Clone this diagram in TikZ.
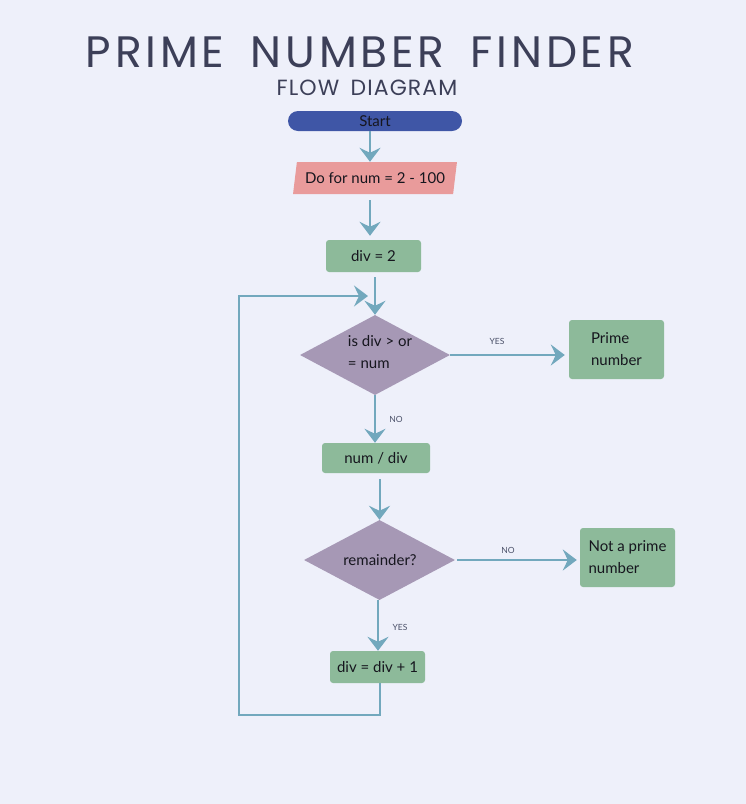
\documentclass[tikz,border=0pt]{standalone}
\usepackage{fontspec}
\setmainfont{Lato}
\newfontfamily\titlefont{Poppins}
\usetikzlibrary{shapes.geometric,arrows.meta,calc}
\definecolor{bgc}{HTML}{EEF0FA}
\definecolor{startc}{HTML}{3F56A6}
\definecolor{pinkc}{HTML}{E99B9B}
\definecolor{greenc}{HTML}{8DBA9A}
\definecolor{purplec}{HTML}{A698B5}
\definecolor{arrowc}{HTML}{72A8BD}
\definecolor{titlec}{HTML}{3C3F58}
\definecolor{textc}{HTML}{16161E}
\definecolor{labelc}{HTML}{4A5068}
\begin{document}
\begin{tikzpicture}[x=1pt,y=-1pt,
  body/.style={font=\fontsize{15}{22}\selectfont, text=textc},
  greenbox/.style={body, rectangle, rounded corners=3pt, fill=greenc, inner sep=0pt, align=left},
  decision/.style={diamond, fill=purplec, inner sep=0pt, aspect=1.875},
  conn/.style={draw=arrowc, line width=2pt},
  arr/.style={conn, -{Stealth[length=14pt,width=21pt,inset=5pt]}},
  lbl/.style={font=\fontsize{8.5}{10}\selectfont, text=labelc}]
\fill[bgc] (0,0) rectangle (746,804);
\useasboundingbox (0,0) rectangle (746,804);

% titles
\node[font=\titlefont\fontsize{44}{44}\selectfont\addfontfeature{LetterSpace=8.5}, text=titlec] (title) at (360,52) {PRIME\hspace{0.25em} NUMBER\hspace{0.25em} FINDER};
\node[font=\titlefont\fontsize{22}{22}\selectfont\addfontfeature{LetterSpace=5}, text=titlec] (subtitle) at (367,88) {FLOW\hspace{0.2em} DIAGRAM};

% nodes
\node[body, rectangle, rounded corners=10pt, fill=startc, minimum width=174pt, minimum height=20pt, inner sep=0pt] (start) at (375,121) {Start};
\node[body, trapezium, trapezium left angle=72.6, trapezium right angle=107.4, trapezium stretches=true, fill=pinkc, minimum width=164pt, minimum height=32pt, inner sep=0pt] (para) at (375,178) {Do for num = 2 - 100};
\node[greenbox, minimum width=95pt, minimum height=32pt] (div2) at (373.5,256) {div = 2};
\node[decision, minimum width=150pt, minimum height=80pt] (d1) at (375,355) {};
\node[body, align=left] (d1t) at (380,352) {is div > or\\= num};
\node[greenbox, minimum width=95pt, minimum height=59pt] (prime) at (616.5,349.5) {Prime\\number};
\node[greenbox, minimum width=108pt, minimum height=30pt] (numdiv) at (376,458) {num / div};
\node[decision, minimum width=151pt, minimum height=80pt] (d2) at (379.5,560) {};
\node[body] (d2t) at (380,560) {remainder?};
\node[greenbox, minimum width=95pt, minimum height=59pt] (notprime) at (627.5,557.5) {Not a prime\\number};
\node[greenbox, minimum width=95pt, minimum height=32pt] (inc) at (377.5,667) {div = div + 1};

% connectors
\draw[arr] (start.south -| 370,0) -- (para.north -| 370,0);
\draw[arr, shorten <=6pt, shorten >=4pt] (para.south -| 370,0) -- (div2.north -| 370,0);
\draw[arr, shorten <=5pt] (div2.south -| d1.north) -- (d1.north);
\draw[arr, shorten >=4pt] (d1.east) -- (prime.west |- d1.east);
\draw[arr] (d1.south) -- (numdiv.north -| d1.south);
\draw[arr, shorten <=6pt] (numdiv.south -| d2.north) -- (d2.north);
\draw[arr, shorten <=2pt, shorten >=3pt] (d2.east) -- (notprime.west |- d2.east);
\draw[arr] (d2.south -| 378,0) -- (inc.north -| 378,0);
\coordinate (lb) at (239,715);
\coordinate (lt) at (239,296);
\coordinate (le) at (368,296);
\draw[arr] (inc.south -| 380,0) |- (lb) -- (lt) -- (le);

% labels
\node[lbl] (yes1) at (497,341) {YES};
\node[lbl] (no1) at (396,419) {NO};
\node[lbl] (no2) at (508,550) {NO};
\node[lbl] (yes2) at (400,627) {YES};
\end{tikzpicture}
\end{document}
